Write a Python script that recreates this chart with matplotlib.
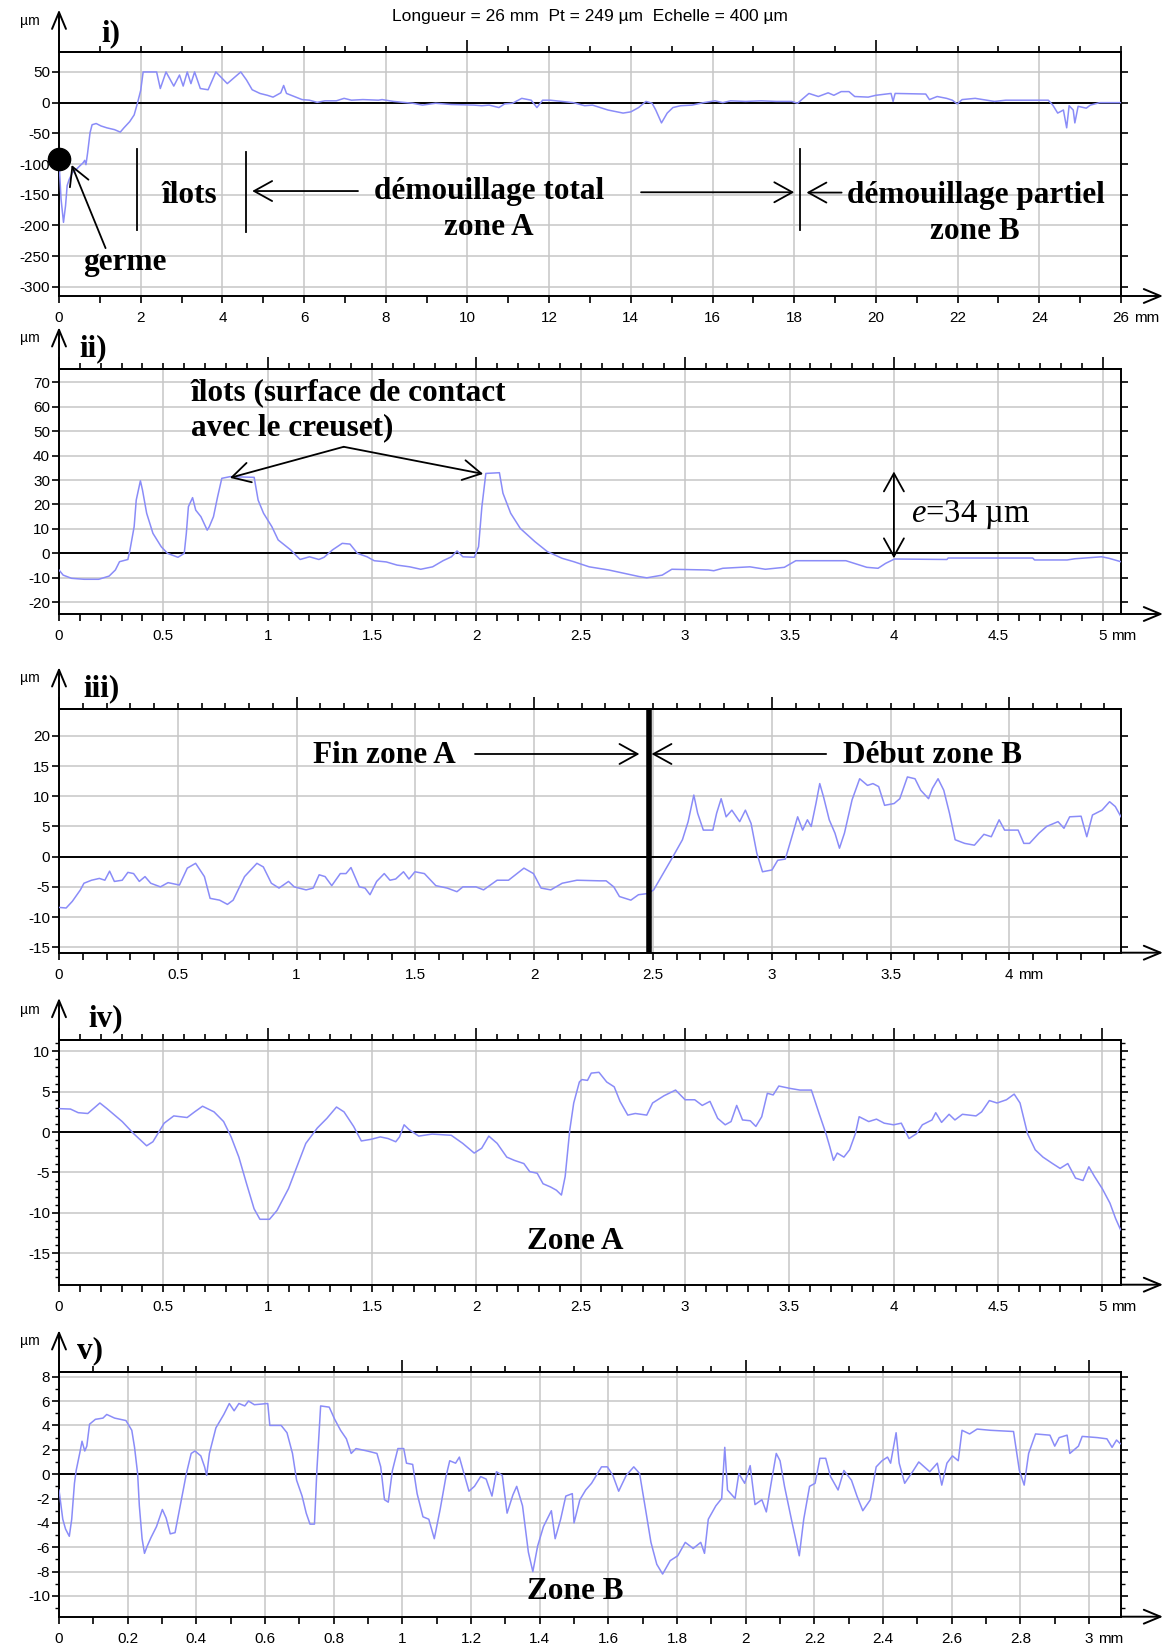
import matplotlib
matplotlib.use("Agg")
import matplotlib.pyplot as plt
from matplotlib.ticker import MultipleLocator, NullFormatter

plt.rcParams['font.family'] = ['Liberation Sans', 'DejaVu Sans']
plt.rcParams['mathtext.fontset'] = 'custom'
plt.rcParams['mathtext.it'] = 'Liberation Serif:italic'
plt.rcParams['mathtext.rm'] = 'Liberation Serif'

# ---------------- profiles (x in mm, z in µm) ----------------
i_x = [0, 0.05, 0.11, 0.16, 0.20, 0.25, 0.33, 0.42, 0.51, 0.59, 0.63, 0.66, 0.70, 0.76, 0.81, 0.91,
       1.03, 1.17, 1.36, 1.50, 1.59, 1.73, 1.84, 1.92, 2.00, 2.06, 2.39, 2.48, 2.62, 2.81, 2.95, 3.04,
       3.14, 3.23, 3.32, 3.46, 3.65, 3.84, 4.03, 4.12, 4.26, 4.45, 4.59, 4.73, 4.92, 5.10, 5.24, 5.43,
       5.50, 5.57, 5.76, 5.95, 6.13, 6.32, 6.51, 6.79, 6.98, 7.16, 7.44, 7.82, 7.91, 8.19, 8.66, 8.90,
       9.22, 9.60, 10.16, 10.35, 10.53, 10.77, 10.91, 11.10, 11.33, 11.56, 11.70, 11.84, 12.03, 12.31,
       12.59, 12.87, 13.06, 13.44, 13.81, 14.0, 14.19, 14.37, 14.52, 14.61, 14.75, 14.89, 15.03, 15.22,
       15.50, 15.78, 16.06, 16.25, 16.44, 16.81, 17.19, 17.56, 17.94, 18.08, 18.22, 18.36, 18.59, 18.83,
       18.97, 19.15, 19.34, 19.48, 19.81, 20.0, 20.37, 20.42, 20.47, 21.22, 21.31, 21.50, 21.73, 21.87,
       21.99, 22.11, 22.43, 22.62, 22.90, 23.18, 23.56, 23.93, 24.22, 24.33, 24.45, 24.59, 24.67, 24.73,
       24.83, 24.87, 24.95, 25.15, 25.25, 25.48, 26.0]
i_z = [-95, -157, -195, -168, -135, -125, -114, -109, -103, -98, -94, -101, -82, -49, -36, -34,
       -38, -41, -44, -48, -41, -31, -20, -1, 20, 50, 50, 23, 50, 27, 45, 27,
       50, 31, 50, 23, 21, 50, 37, 31, 39, 50, 37, 21, 15, 12, 9, 16,
       28, 15, 10, 5, 4, 0.5, 3, 3, 7, 4, 5, 4, 5, 2, -1, -4,
       -1, -3, -4, -5, -4, -8, -2, -1, 7, 4, -8, 4, 4, 2,
       0, -5, -4, -12, -17, -15, -8, 2, -1, -12, -33, -17, -8, -5,
       -4, 0, 3, 0, 3, 2, 3, 2, 2, -1, 7, 15, 10, 16,
       12, 18, 18, 10, 9, 12, 15, 2, 15, 14, 5, 10, 7, 4,
       -2, 5, 7, 5, 2, 4, 4, 4, 4, -4, -17, -12, -41, -5,
       -12, -33, -6, -9, -4, 0, 0]

ii_x = [0, 0.02, 0.06, 0.12, 0.19, 0.24, 0.27, 0.29, 0.33, 0.34, 0.36, 0.37, 0.39, 0.40, 0.42, 0.45,
        0.49, 0.52, 0.57, 0.60, 0.61, 0.62, 0.64, 0.655, 0.68, 0.71, 0.72, 0.74, 0.76, 0.78, 0.82, 0.935,
        0.954, 0.98, 1.02, 1.05, 1.11, 1.155, 1.20, 1.245, 1.27, 1.31, 1.357, 1.394, 1.43, 1.476, 1.51,
        1.568, 1.62, 1.68, 1.733, 1.79, 1.84, 1.88, 1.907, 1.935, 1.99, 2.01, 2.026, 2.045, 2.11, 2.127,
        2.164, 2.21, 2.28, 2.34, 2.41, 2.466, 2.54, 2.634, 2.78, 2.816, 2.89, 2.936, 3.11, 3.137, 3.18,
        3.31, 3.384, 3.475, 3.53, 3.77, 3.87, 3.924, 3.96, 4.003, 4.254, 4.26, 4.665, 4.674, 4.83, 4.867,
        4.995, 5.03, 5.087]
ii_z = [-6.8, -8.9, -10.2, -10.6, -10.6, -9.3, -6.8, -3.4, -2.5, 1.4, 10.9, 21.8, 29.7, 25.9, 16.4, 8.2,
        2.7, 0, -1.6, 0, 8.2, 19.1, 22.8, 17.7, 15.0, 9.5, 10.9, 15.0, 23.2, 30.7, 31.4, 31.1,
        21.8, 16.4, 10.9, 5.5, 1.4, -2.5, -1.4, -2.5, -1.6, 1.4, 4.1, 3.8, 0, -1.4, -3.0,
        -3.5, -4.8, -5.5, -6.5, -5.5, -3.0, -1.4, 1.0, -1.4, -1.6, 2.7, 19.1, 32.7, 33.0, 24.6,
        16.4, 10.2, 4.8, 0.7, -2.0, -3.4, -5.5, -6.8, -9.5, -10.0, -8.9, -6.5, -6.8, -7.1, -6.1,
        -5.5, -6.5, -5.7, -3.0, -3.0, -5.7, -6.1, -4.1, -2.3, -2.5, -1.9, -1.9, -2.7, -2.7, -2.2,
        -1.4, -2.0, -3.4]

iii_x = [0, 0.03, 0.056, 0.09, 0.105, 0.137, 0.17, 0.193, 0.213, 0.233, 0.266, 0.29, 0.314, 0.338,
         0.362, 0.386, 0.427, 0.459, 0.507, 0.54, 0.575, 0.612, 0.636, 0.676, 0.709, 0.733, 0.781, 0.833,
         0.86, 0.894, 0.926, 0.966, 0.99, 1.04, 1.07, 1.095, 1.12, 1.148, 1.184, 1.208, 1.229, 1.264,
         1.288, 1.309, 1.337, 1.369, 1.393, 1.417, 1.45, 1.473, 1.498, 1.538, 1.586, 1.634, 1.675, 1.70,
         1.755, 1.787, 1.844, 1.892, 1.957, 1.997, 2.029, 2.07, 2.118, 2.18, 2.275, 2.303, 2.335, 2.359,
         2.407, 2.439, 2.479, 2.503, 2.543, 2.584, 2.624, 2.648, 2.672, 2.688, 2.712, 2.752, 2.768, 2.787,
         2.808, 2.832, 2.865, 2.889, 2.913, 2.937, 2.961, 3.001, 3.025, 3.057, 3.081, 3.109, 3.13, 3.15,
         3.166, 3.186, 3.202, 3.218, 3.242, 3.266, 3.285, 3.306, 3.338, 3.37, 3.403, 3.426, 3.45, 3.475,
         3.515, 3.539, 3.571, 3.603, 3.627, 3.66, 3.676, 3.70, 3.724, 3.748, 3.772, 3.812, 3.853, 3.893,
         3.924, 3.957, 3.98, 4.037, 4.061, 4.085, 4.125, 4.157, 4.205, 4.23, 4.254, 4.302, 4.326, 4.35,
         4.39, 4.422, 4.446, 4.47]
iii_z = [-8.4, -8.5, -7.4, -5.5, -4.4, -3.9, -3.6, -3.9, -2.4, -4.1, -3.9, -2.6, -2.8, -4.1,
         -3.3, -4.4, -5.0, -4.3, -4.7, -1.9, -1.1, -3.3, -6.9, -7.2, -7.9, -7.2, -3.3, -1.1,
         -1.7, -4.4, -5.2, -4.1, -5.0, -5.5, -5.2, -3.0, -3.3, -4.8, -2.8, -2.8, -1.8, -5.0,
         -5.2, -6.3, -4.1, -2.8, -3.9, -3.7, -2.5, -3.7, -2.5, -2.8, -4.8, -5.2, -5.8, -5.0,
         -5.0, -5.5, -3.9, -3.9, -1.9, -2.8, -5.2, -5.5, -4.4, -3.9, -4.0, -4.0, -5.0, -6.6,
         -7.2, -6.3, -6.1, -5.5, -2.8, 0, 2.8, 5.8, 10.2, 7.2, 4.4, 4.4, 7.2, 9.6,
         6.6, 7.7, 5.8, 7.7, 5.5, 0.6, -2.5, -2.2, -0.6, -0.4, 2.8, 6.6, 4.4, 6.1,
         5.0, 8.8, 12.1, 9.9, 6.1, 3.9, 1.4, 3.9, 9.4, 12.9, 11.8, 12.1, 11.6, 8.5,
         8.8, 9.6, 13.2, 12.9, 11.0, 9.6, 11.3, 12.9, 11.0, 7.2, 2.8, 2.2, 1.9, 3.7,
         3.3, 6.1, 4.4, 4.4, 2.2, 2.2, 3.9, 5.0, 5.8, 4.7, 6.6, 6.7, 3.3, 6.9,
         7.7, 9.1, 8.3, 6.6]

iv_x = [0, 0.055, 0.092, 0.138, 0.165, 0.196, 0.23, 0.303, 0.358, 0.42, 0.45, 0.504, 0.55, 0.614,
        0.65, 0.688, 0.743, 0.789, 0.825, 0.862, 0.899, 0.935, 0.963, 1.009, 1.045, 1.10, 1.137, 1.183,
        1.238, 1.284, 1.33, 1.366, 1.412, 1.449, 1.495, 1.54, 1.577, 1.614, 1.632, 1.654, 1.678, 1.724,
        1.788, 1.88, 1.935, 1.99, 2.026, 2.06, 2.10, 2.146, 2.182, 2.228, 2.256, 2.292, 2.32, 2.356,
        2.384, 2.408, 2.426, 2.448, 2.467, 2.494, 2.506, 2.533, 2.551, 2.588, 2.625, 2.661, 2.689,
        2.726, 2.762, 2.817, 2.845, 2.90, 2.955, 3.001, 3.047, 3.083, 3.12, 3.157, 3.193, 3.221, 3.248,
        3.276, 3.313, 3.34, 3.368, 3.395, 3.423, 3.45, 3.505, 3.551, 3.606, 3.643, 3.676, 3.694, 3.712,
        3.73, 3.762, 3.789, 3.817, 3.835, 3.881, 3.918, 3.955, 4.0, 4.037, 4.074, 4.11, 4.138, 4.184,
        4.202, 4.23, 4.266, 4.294, 4.33, 4.395, 4.422, 4.459, 4.496, 4.541, 4.578, 4.606, 4.642, 4.679,
        4.716, 4.762, 4.798, 4.835, 4.872, 4.908, 4.936, 4.963, 5.0, 5.037, 5.064, 5.088]
iv_z = [2.9, 2.85, 2.4, 2.3, 2.9, 3.6, 2.9, 1.3, -0.2, -1.7, -1.2, 1.1, 2.0, 1.8,
        2.5, 3.2, 2.5, 1.3, -0.6, -3.1, -6.4, -9.5, -10.8, -10.8, -9.7, -7.0, -4.5, -1.4,
        0.5, 1.7, 3.1, 2.5, 0.7, -1.1, -0.9, -0.6, -0.8, -1.2, -0.6, 0.9, 0.3, -0.5,
        -0.25, -0.4, -1.4, -2.6, -2.0, -0.5, -1.4, -3.1, -3.5, -3.9, -4.9, -5.1, -6.4, -6.8,
        -7.2, -7.8, -5.5, 0.25, 3.6, 6.2, 6.5, 6.4, 7.3, 7.4, 6.2, 5.6, 3.8,
        2.1, 2.3, 2.1, 3.6, 4.5, 5.2, 4.0, 4.0, 3.3, 3.8, 1.7, 0.9, 1.3, 3.3,
        1.5, 1.4, 0.7, 1.9, 4.8, 4.6, 5.7, 5.4, 5.2, 5.2, 2.3, -0.2, -1.8, -3.5,
        -2.6, -3.1, -2.2, -0.2, 1.9, 1.3, 1.6, 1.1, 0.9, 1.1, -0.8, -0.2, 0.9, 1.5,
        2.4, 1.2, 2.2, 1.5, 2.2, 2.0, 2.5, 3.9, 3.6, 4.0, 4.7, 3.6, -0.2, -2.2,
        -3.1, -3.9, -4.5, -3.9, -5.7, -6.0, -4.3, -5.5, -7.0, -8.8, -10.7, -12.1]

v_x = [0, 0.006, 0.011, 0.019, 0.03, 0.037, 0.045, 0.05, 0.061, 0.067, 0.075, 0.081, 0.089, 0.106,
       0.128, 0.139, 0.162, 0.195, 0.212, 0.22, 0.229, 0.234, 0.242, 0.249, 0.257, 0.268, 0.284, 0.301,
       0.312, 0.324, 0.338, 0.351, 0.371, 0.385, 0.396, 0.413, 0.424, 0.43, 0.438, 0.457, 0.48, 0.496,
       0.51, 0.524, 0.541, 0.552, 0.569, 0.608, 0.614, 0.647, 0.664, 0.68, 0.692, 0.708, 0.72, 0.731,
       0.744, 0.751, 0.762, 0.787, 0.803, 0.82, 0.837, 0.851, 0.865, 0.898, 0.926, 0.937, 0.948, 0.959,
       0.971, 0.987, 1.004, 1.012, 1.03, 1.043, 1.06, 1.077, 1.093, 1.11, 1.127, 1.138, 1.155, 1.166,
       1.182, 1.194, 1.21, 1.228, 1.244, 1.261, 1.274, 1.291, 1.305, 1.322, 1.333, 1.35, 1.367, 1.38,
       1.394, 1.411, 1.434, 1.445, 1.461, 1.476, 1.495, 1.50, 1.517, 1.534, 1.551, 1.58, 1.597, 1.613,
       1.63, 1.652, 1.674, 1.691, 1.702, 1.713, 1.724, 1.741, 1.758, 1.78, 1.802, 1.824, 1.847, 1.869,
       1.88, 1.891, 1.913, 1.93, 1.939, 1.947, 1.969, 1.98, 1.997, 2.013, 2.027, 2.047, 2.06, 2.074,
       2.089, 2.10, 2.113, 2.133, 2.156, 2.169, 2.186, 2.202, 2.216, 2.233, 2.247, 2.269, 2.286, 2.308,
       2.324, 2.341, 2.363, 2.38, 2.397, 2.413, 2.422, 2.438, 2.447, 2.463, 2.486, 2.504, 2.536, 2.558,
       2.571, 2.586, 2.602, 2.619, 2.63, 2.652, 2.674, 2.713, 2.78, 2.797, 2.811, 2.824, 2.844, 2.886,
       2.9, 2.913, 2.936, 2.944, 2.969, 2.98, 3.024, 3.052, 3.067, 3.08, 3.091]
v_z = [-1.3, -2.6, -3.7, -4.5, -5.1, -3.7, -0.75, 0.3, 1.8, 2.7, 1.9, 2.3, 4.1, 4.5,
       4.6, 4.9, 4.6, 4.4, 3.6, 2.2, 0.05, -2.6, -5.3, -6.5, -5.9, -5.2, -4.3, -2.9,
       -3.6, -4.9, -4.8, -2.9, 0.05, 1.7, 1.9, 1.5, 0.6, -0.1, 1.7, 3.8, 4.9, 5.8,
       5.2, 5.8, 5.6, 6.0, 5.7, 5.8, 4.0, 4.0, 3.4, 1.7, -0.5, -1.8, -3.2, -4.1,
       -4.1, 0.3, 5.6, 5.5, 4.5, 3.6, 2.9, 1.7, 2.1, 1.9, 1.7, 0.6, -2.1, -2.3,
       0.3, 2.1, 2.1, 0.9, 0.8, -1.6, -3.5, -3.7, -5.3, -2.9, -0.2, 1.1, 0.9, 1.4,
       -0.2, -1.4, -1.0, -0.2, -0.4, -1.8, 0.2, -0.1, -3.2, -1.7, -1.0, -2.6, -6.4, -8.0,
       -5.9, -4.3, -3.0, -5.3, -3.7, -1.8, -1.6, -4.0, -2.1, -1.3, -0.75, 0.6, 0.6, -0.1,
       -1.4, -0.1, 0.6, 0.05, -1.8, -3.7, -5.6, -7.4, -8.2, -7.1, -6.7, -5.6, -6.1, -5.6,
       -6.5, -3.7, -2.6, -2.0, 2.2, -1.3, -2.0, 0.05, -0.75, 0.7, -2.5, -2.1, -3.1, -0.75,
       1.7, 1.1, -1.0, -3.7, -6.7, -3.7, -1.0, -0.75, 1.3, 1.3, -0.2, -1.3, 0.3, -0.5,
       -1.8, -3.0, -2.1, 0.6, 1.1, 1.4, 0.9, 3.4, 0.9, -0.75, 0.2, 1.0, 0.2, 0.9,
       -0.9, 0.9, 1.5, 1.1, 3.6, 3.3, 3.7, 3.6, 3.5, 0.3, -0.9, 1.7, 3.3, 3.2,
       2.3, 3.0, 3.2, 1.7, 2.3, 3.1, 3.0, 2.9, 2.2, 2.8, 2.5]

# ---------------- axes ticks ----------------
i_xticks = [0, 2, 4, 6, 8, 10, 12, 14, 16, 18, 20, 22, 24, 26]
i_yticks = [50, 0, -50, -100, -150, -200, -250, -300]
ii_xticks = [0, 0.5, 1, 1.5, 2, 2.5, 3, 3.5, 4, 4.5, 5]
ii_yticks = [70, 60, 50, 40, 30, 20, 10, 0, -10, -20]
iii_xticks = [0, 0.5, 1, 1.5, 2, 2.5, 3, 3.5, 4]
iii_yticks = [20, 15, 10, 5, 0, -5, -10, -15]
iv_xticks = [0, 0.5, 1, 1.5, 2, 2.5, 3, 3.5, 4, 4.5, 5]
iv_yticks = [10, 5, 0, -5, -10, -15]
v_xticks = [0, 0.2, 0.4, 0.6, 0.8, 1, 1.2, 1.4, 1.6, 1.8, 2, 2.2, 2.4, 2.6, 2.8, 3]
v_yticks = [8, 6, 4, 2, 0, -2, -4, -6, -8, -10]

header = "Longueur = 26 mm  Pt = 249 µm  Echelle = 400 µm"
LINE = '#8a8cf8'
SERIF = ['Liberation Serif', 'DejaVu Serif']
W, H = 1170, 1645

fig = plt.figure(figsize=(W / 100, H / 100), dpi=100)


def make_panel(top, bot, x, z, xlim, ylim, xticks, xminor, topmajor, topminor, yticks, yminor=None):
    left, right = 59, 1121
    ax = fig.add_axes([left / W, 1 - bot / H, (right - left) / W, (bot - top) / H])
    ax.plot(x, z, color=LINE, lw=1.1, zorder=3)
    ax.set_xlim(xlim)
    ax.set_ylim(ylim)
    ax.set_xticks(xticks)
    ax.set_xticklabels([f'{v:g}' for v in xticks])
    ax.xaxis.set_minor_locator(MultipleLocator(xminor))
    ax.set_yticks(yticks)
    ax.set_yticklabels([f'{v:g}' for v in yticks])
    if yminor:
        ax.yaxis.set_minor_locator(MultipleLocator(yminor))
    ax.tick_params(axis='x', which='both', direction='out', length=5, width=1.2,
                   top=False, pad=6, labelsize=11)
    ax.tick_params(axis='y', which='major', direction='out', length=5, width=1.2,
                   left=True, right=True, pad=1.5, labelsize=11)
    ax.tick_params(axis='y', which='minor', direction='out', length=3, width=1.0,
                   left=True, right=True)
    for s in ax.spines.values():
        s.set_linewidth(1.4)
    sec = ax.secondary_xaxis('top')
    sec.xaxis.set_major_locator(MultipleLocator(topmajor))
    sec.xaxis.set_minor_locator(MultipleLocator(topminor))
    sec.xaxis.set_major_formatter(NullFormatter())
    sec.tick_params(which='major', direction='out', length=9, width=1.2)
    sec.tick_params(which='minor', direction='out', length=4, width=1.2)
    sec.spines['top'].set_linewidth(1.4)
    ax.grid(which='major', color='#c6c6c6', lw=1.1)
    ax.axhline(0, color='k', lw=1.4, zorder=2)
    # axis arrows
    hpx, wpx = bot - top, right - left
    ax.annotate('', xy=(0, 1 + 42 / hpx), xytext=(0, 1), xycoords='axes fraction',
                arrowprops=dict(arrowstyle='->,head_length=0.6,head_width=0.25', lw=1.4,
                                color='k', shrinkA=0, shrinkB=0, mutation_scale=20),
                annotation_clip=False)
    ax.annotate('', xy=(1 + 42 / wpx, 0), xytext=(1, 0), xycoords='axes fraction',
                arrowprops=dict(arrowstyle='->,head_length=0.6,head_width=0.25', lw=1.4,
                                color='k', shrinkA=0, shrinkB=0, mutation_scale=20),
                annotation_clip=False)
    # unit after the last x tick label
    lab = f'{xticks[-1]:g}'
    half = len(lab) * 0.556 * 11 / 2
    ax.annotate('mm', xy=(xticks[-1], 0), xycoords=('data', 'axes fraction'),
                xytext=(half + 3.1, -11), textcoords='offset points', ha='left', va='top',
                fontsize=11, annotation_clip=False)
    return ax


def arrow(ax, x0, y0, x1, y1, style='->'):
    ax.annotate('', xy=(x1, y1), xytext=(x0, y0),
                arrowprops=dict(arrowstyle=f'{style},head_length=0.65,head_width=0.36',
                                color='k', lw=1.3, shrinkA=0, shrinkB=0, mutation_scale=20))


def label(ax, x, y, s, size=22.5, **kw):
    kw.setdefault('ha', 'center')
    kw.setdefault('va', 'center')
    kw.setdefault('fontweight', 'bold')
    ax.text(x, y, s, family=SERIF, fontsize=size, zorder=5, **kw)


# ---- panel i ----
ax1 = make_panel(51.7, 296, i_x, i_z, (0, 26), (-315, 83), i_xticks, 1, 10, 1, i_yticks)
ax1.plot([0], [-92], 'o', color='k', ms=16, clip_on=False, zorder=6)
for bx, b0, b1 in [(1.92, -76, -207.5), (4.57, -80, -210), (18.13, -76, -207.5)]:
    ax1.plot([bx, bx], [b0, b1], color='k', lw=1.3)
label(ax1, 3.19, -152, 'îlots')
label(ax1, 10.53, -145, 'démouillage total')
label(ax1, 10.53, -204, 'zone A')
label(ax1, 22.45, -152, 'démouillage partiel')
label(ax1, 22.43, -210, 'zone B')
label(ax1, 1.61, -260, 'germe')
arrow(ax1, 7.32, -144, 4.73, -144)
arrow(ax1, 14.25, -146, 18.0, -146)
arrow(ax1, 19.16, -146.5, 18.3, -146.5)
arrow(ax1, 1.14, -237, 0.31, -101.6)

# ---- panel ii ----
ax2 = make_panel(369.3, 614, ii_x, ii_z, (0, 5.088), (-24.8, 75.3), ii_xticks, 0.1, 1, 0.1, ii_yticks)
label(ax2, 0.632, 58.6, 'îlots (surface de contact\navec le creuset)', ha='left', linespacing=1.3)
arrow(ax2, 1.364, 43.6, 0.819, 30.9)
arrow(ax2, 1.364, 43.6, 2.032, 32.5)
arrow(ax2, 4.0, -2.0, 4.0, 33.5, style='<->')
label(ax2, 4.084, 16, r'$\mathit{e}$=34 µm', size=23.5, ha='left', fontweight='normal')

# ---- panel iii ----
ax3 = make_panel(709.3, 952.7, iii_x, iii_z, (0, 4.47), (-15.9, 24.4), iii_xticks, 0.1, 1, 0.1, iii_yticks)
ax3.axvline(2.483, color='k', lw=4, zorder=4)
label(ax3, 1.37, 16.8, 'Fin zone A')
label(ax3, 3.676, 16.8, 'Début zone B')
arrow(ax3, 1.751, 17.0, 2.443, 17.0)
arrow(ax3, 3.229, 17.0, 2.494, 17.0)

# ---- panel iv ----
ax4 = make_panel(1040, 1284.7, iv_x, iv_z, (0, 5.09), (-18.9, 11.4), iv_xticks, 0.1, 1, 0.1, iv_yticks, 1)
label(ax4, 2.475, -13.6, 'Zone A')

# ---- panel v ----
ax5 = make_panel(1372.3, 1616.7, v_x, v_z, (0, 3.093), (-11.7, 8.36), v_xticks, 0.1, 1, 0.1, v_yticks, 1)
label(ax5, 1.504, -9.6, 'Zone B')

# ---- figure texts ----
fig.text(590 / W, 1 - 16 / H, header, ha='center', va='center', fontsize=12.5)
for (px, py), s in zip([(111, 34), (93, 349), (102, 689), (106, 1019), (90, 1351)],
                       ['i)', 'ii)', 'iii)', 'iv)', 'v)']):
    fig.text(px / W, 1 - py / H, s, ha='center', va='center', family=SERIF,
             fontweight='bold', fontsize=22.5)
for py in [21, 338, 678, 1010, 1341]:
    fig.text(30 / W, 1 - py / H, 'µm', ha='center', va='center', fontsize=10)

fig.savefig('out.png', dpi=100, facecolor='white')
